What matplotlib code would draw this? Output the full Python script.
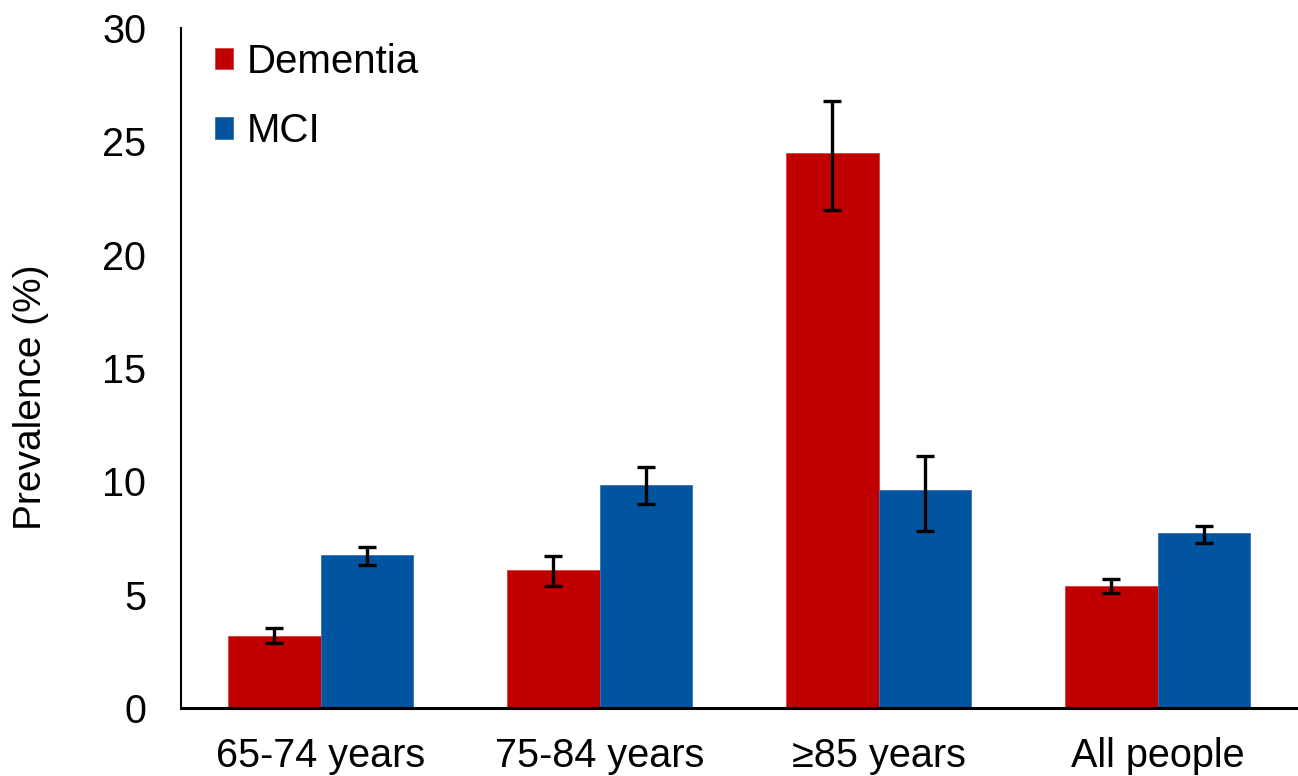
import matplotlib
matplotlib.use("Agg")
import matplotlib.pyplot as plt
import numpy as np

categories = ["65-74 years", "75-84 years", "≥85 years", "All people"]
dementia = [3.19, 6.07, 24.48, 5.38]
dementia_hi = [3.54, 6.71, 26.79, 5.71]
dementia_lo = [2.88, 5.38, 21.98, 5.09]
mci = [6.73, 9.82, 9.62, 7.72]
mci_hi = [7.12, 10.62, 11.10, 8.01]
mci_lo = [6.29, 9.00, 7.79, 7.28]
yticks = [0, 5, 10, 15, 20, 25, 30]

plt.rcParams['font.family'] = ['Liberation Sans', 'DejaVu Sans']

fig = plt.figure(figsize=(12.98, 7.76), dpi=100)
ax = fig.add_axes([181/1298, 1-708/776, 1116/1298, 680/776])

x = np.arange(len(categories))
w = 0.333
red = '#C00000'
blue = '#0155A0'

d_err = [np.array(dementia) - np.array(dementia_lo), np.array(dementia_hi) - np.array(dementia)]
m_err = [np.array(mci) - np.array(mci_lo), np.array(mci_hi) - np.array(mci)]

ekw = dict(elinewidth=2.4, capthick=2.4, ecolor='black')
ax.bar(x - w/2, dementia, w, color=red, edgecolor='#d04040', linewidth=0.6,
       yerr=d_err, capsize=6.5, error_kw=ekw, label='Dementia')
ax.bar(x + w/2, mci, w, color=blue, edgecolor='#3a6fb8', linewidth=0.6,
       yerr=m_err, capsize=6.5, error_kw=ekw, label='MCI')

ax.set_xlim(-0.5, 3.5)
ax.set_ylim(0, 30)
ax.set_yticks(yticks)
ax.set_xticks(x)
ax.set_xticklabels(categories)
ax.tick_params(axis='both', length=0, labelsize=28.5)
ax.tick_params(axis='y', pad=25)
ax.tick_params(axis='x', pad=21)

for s in ['top', 'right']:
    ax.spines[s].set_visible(False)
ax.spines['left'].set_linewidth(1.5)
ax.spines['bottom'].set_linewidth(2.2)

fig.text(31/1298, 1-397/776, 'Prevalence (%)', rotation=90, fontsize=28,
         ha='center', va='center')

leg = ax.legend(loc='upper left', bbox_to_anchor=(215/1298, 1-43/776),
                bbox_transform=fig.transFigure, frameon=False, fontsize=29,
                handlelength=0.45, handleheight=0.45, handletextpad=0.35,
                labelspacing=0.78, borderpad=0, borderaxespad=0)

fig.savefig('out.png', dpi=100)
